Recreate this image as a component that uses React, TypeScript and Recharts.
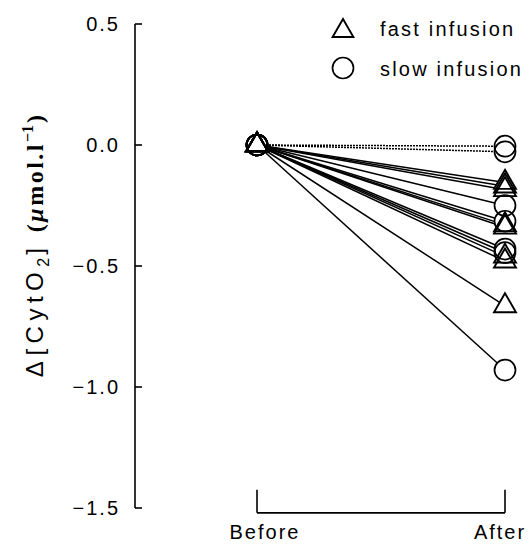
import { LineChart, Line, XAxis, YAxis, ReferenceLine, Legend } from "recharts";

// values
const categories = ["Before", "After"];
const fastBefore = [0, 0, 0, 0, 0, 0, 0, 0];
const fastAfter = [-0.155, -0.17, -0.185, -0.33, -0.34, -0.46, -0.48, -0.665];
const slowBefore = [0, 0, 0, 0, 0, 0, 0];
const slowAfter = [-0.005, -0.028, -0.25, -0.315, -0.43, -0.445, -0.93];
const yTicks = [0.5, 0, -0.5, -1, -1.5];
const legendLabels = ["fast infusion", "slow infusion"];

const FONT = "'Liberation Sans', Arial, sans-serif";
const SERIF = "'Liberation Serif', 'Times New Roman', serif";
const X_MIN = -0.492; // leaves room between y axis and "Before"
const BRACKET_BOTTOM = -1.52;
const BRACKET_TOP = -1.425;

const rows = categories.map((c, i) => {
    const row: Record<string, number | string> = { pos: i, name: c };
    fastAfter.forEach((v, j) => (row[`f${j}`] = i === 0 ? fastBefore[j] : v));
    slowAfter.forEach((v, j) => (row[`s${j}`] = i === 0 ? slowBefore[j] : v));
    return row;
});

const triPath = (cx: number, cy: number, h: number) => {
    const w = h / Math.sqrt(3);
    return `M${cx},${cy - (2 * h) / 3}L${cx + w},${cy + h / 3}L${cx - w},${cy + h / 3}Z`;
};

const marker = (shape: "circle" | "triangle", pass: "fill" | "stroke") => (p: any) => {
    const { cx, cy, index, dataKey } = p;
    const k = `${dataKey}-${pass}-${index}`;
    if (cx == null || cy == null) return <g key={k} />;
    const fill = pass === "fill" ? "#fff" : "none";
    const stroke = pass === "stroke" ? "#000" : "none";
    if (shape === "circle") {
        return <circle key={k} cx={cx} cy={cy} r={10.5} fill={fill} stroke={stroke} strokeWidth={1.7} />;
    }
    return <path key={k} d={triPath(cx, cy, 19)} fill={fill} stroke={stroke} strokeWidth={1.9} />;
};

const YLabel = () => (
    <text x={43} y={246} transform="rotate(-90 43 246)" textAnchor="middle" fill="#000" fontSize={24}>
        <tspan fontFamily={FONT} letterSpacing={5.5}>Δ[CytO</tspan>
        <tspan fontFamily={FONT} fontSize={16} dy={6}>2</tspan>
        <tspan fontFamily={FONT} dy={-6} dx={3}>]</tspan>
        <tspan fontFamily={SERIF} fontWeight="bold" dx={16} letterSpacing={2.5}>(</tspan>
        <tspan fontFamily={SERIF} fontWeight="bold" fontStyle="italic" letterSpacing={2.5}>μ</tspan>
        <tspan fontFamily={SERIF} fontWeight="bold" letterSpacing={2.5}>mol.l</tspan>
        <tspan fontFamily={SERIF} fontWeight="bold" fontSize={16} dy={-10}>−1</tspan>
        <tspan fontFamily={SERIF} fontWeight="bold" dy={10} dx={2}>)</tspan>
    </text>
);

const LegendBox = () => (
    <svg width={204} height={90}>
        {legendLabels.map((label, i) => (
            <g key={label}>
                {i === 0 ? (
                    <path d={triPath(18, 23, 18)} fill="#fff" stroke="#000" strokeWidth={1.9} />
                ) : (
                    <circle cx={18} cy={60} r={10.5} fill="#fff" stroke="#000" strokeWidth={1.7} />
                )}
                <text x={55} y={21 + i * 40} dy="0.35em" fontFamily={FONT} fontSize={20} letterSpacing={2.2} fill="#000">
                    {label}
                </text>
            </g>
        ))}
    </svg>
);

const tickStyle = { fill: "#000", fontSize: 20, fontFamily: FONT, letterSpacing: 2 };

// small nudges so the two labels sit where the figure has them
const xLabelShift = [8, -5];

const XTick = (p: any) => {
    const { x, y, payload, index } = p;
    return (
        <text x={x + (xLabelShift[index] ?? 0)} y={y} dy="0.71em" textAnchor="middle" {...tickStyle}>
            {categories[payload.value]}
        </text>
    );
};

export default function App() {
    return (
        <div style={{ position: "absolute", left: 0, top: 0, width: 529, height: 544, background: "#fff" }}>
            <LineChart width={529} height={544} data={rows} margin={{ top: 24, right: 24, bottom: 0, left: 0 }}>
                <YAxis
                    type="number"
                    domain={[-1.5, 0.5]}
                    ticks={yTicks}
                    interval={0}
                    width={135}
                    tickSize={-7}
                    tickMargin={22}
                    stroke="#000"
                    strokeWidth={1.6}
                    tick={tickStyle}
                    tickFormatter={(v: number) => v.toFixed(1).replace("-", "\u2212")}
                    label={{ content: () => <YLabel /> }}
                />
                <XAxis
                    dataKey="pos"
                    type="number"
                    domain={[X_MIN, 1]}
                    ticks={[0, 1]}
                    interval={0}
                    height={36}
                    axisLine={false}
                    tickLine={false}
                    tickMargin={11}
                    tick={<XTick />}
                />
                <ReferenceLine
                    segment={[{ x: 0, y: BRACKET_BOTTOM }, { x: 1, y: BRACKET_BOTTOM }]}
                    stroke="#000"
                    strokeWidth={1.6}
                    ifOverflow="visible"
                />
                <ReferenceLine
                    segment={[{ x: 0, y: BRACKET_BOTTOM }, { x: 0, y: BRACKET_TOP }]}
                    stroke="#000"
                    strokeWidth={1.6}
                    ifOverflow="visible"
                />
                <ReferenceLine
                    segment={[{ x: 1, y: BRACKET_BOTTOM }, { x: 1, y: BRACKET_TOP }]}
                    stroke="#000"
                    strokeWidth={1.6}
                    ifOverflow="visible"
                />
                <Legend layout="vertical" align="center" verticalAlign="middle" wrapperStyle={{ left: 325, top: 8, width: 204 }} content={() => <LegendBox />} />

                {slowAfter.map((v, j) => (
                    <Line
                        key={`sl${j}`}
                        dataKey={`s${j}`}
                        stroke="#000"
                        strokeWidth={1.5}
                        strokeDasharray={Math.abs(v) < 0.05 ? "2 1" : undefined}
                        dot={false}
                        activeDot={false}
                        isAnimationActive={false}
                    />
                ))}
                {fastAfter.map((v, j) => (
                    <Line key={`fl${j}`} dataKey={`f${j}`} stroke="#000" strokeWidth={1.5} dot={false} activeDot={false} isAnimationActive={false} />
                ))}
                {slowAfter.map((v, j) => (
                    <Line key={`sf${j}`} dataKey={`s${j}`} stroke="none" dot={marker("circle", "fill")} activeDot={false} isAnimationActive={false} />
                ))}
                {fastAfter.map((v, j) => (
                    <Line key={`ff${j}`} dataKey={`f${j}`} stroke="none" dot={marker("triangle", "fill")} activeDot={false} isAnimationActive={false} />
                ))}
                {slowAfter.map((v, j) => (
                    <Line key={`ss${j}`} dataKey={`s${j}`} stroke="none" dot={marker("circle", "stroke")} activeDot={false} isAnimationActive={false} />
                ))}
                {fastAfter.map((v, j) => (
                    <Line key={`fs${j}`} dataKey={`f${j}`} stroke="none" dot={marker("triangle", "stroke")} activeDot={false} isAnimationActive={false} />
                ))}
            </LineChart>
        </div>
    );
}
